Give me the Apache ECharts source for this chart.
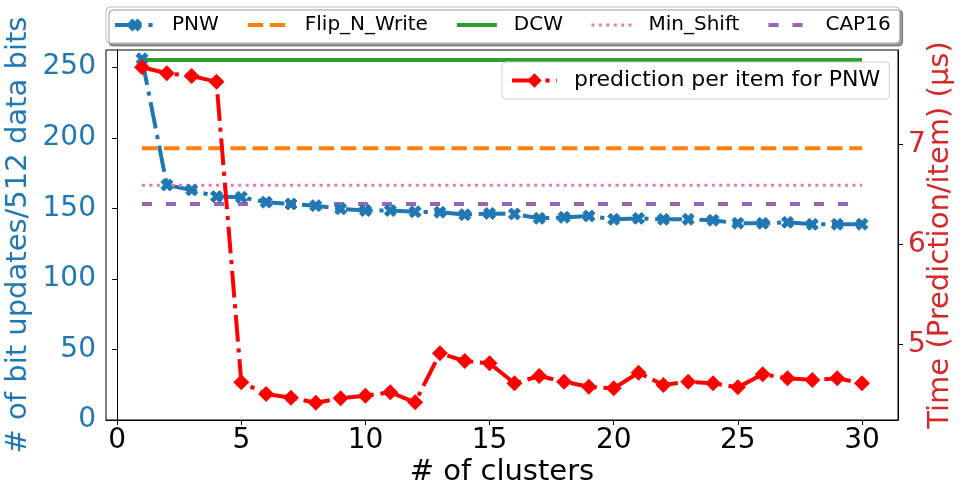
<!DOCTYPE html>
<html><head><meta charset="utf-8">
<script src="https://cdn.jsdelivr.net/npm/echarts@6/dist/echarts.min.js"></script>
<style>html,body{margin:0;padding:0;background:#fff}#c{width:964px;height:496px}</style>
</head><body><div id="c"></div>
<script>
const clusters = [1,2,3,4,5,6,7,8,9,10,11,12,13,14,15,16,17,18,19,20,21,22,23,24,25,26,27,28,29,30];
const pnw = [256,166.5,163,158.3,157.9,154.3,153.1,151.9,149.6,148.4,148.4,147.6,147.2,145.5,146.4,146.0,142.9,143.6,144.6,142.2,142.9,142.2,142.2,141.5,139.4,139.4,140.1,138.7,138.7,138.7];
const prediction = [7.77,7.71,7.683,7.626,4.62,4.503,4.466,4.416,4.46,4.486,4.52,4.42,4.91,4.833,4.81,4.61,4.683,4.626,4.576,4.56,4.716,4.593,4.626,4.61,4.57,4.7,4.66,4.643,4.66,4.61];
const flipNWrite = 192.5;
const dcw = 255.1;
const minShift = 166.3;
const cap16 = 153.1;
const xTicks = [0,5,10,15,20,25,30];
const leftTicks = [0,50,100,150,200,250];
const rightTicks = [5,6,7];

const FONT = 'DejaVu Sans';
const pair = (xs, ys) => xs.map((x, i) => [x, ys[i]]);
const flat = v => [[clusters[0], v], [clusters[clusters.length - 1], v]];
const X_PATH = 'path://M2,-4L0,-2L-2,-4L-4,-2L-2,0L-4,2L-2,4L0,2L2,4L4,2L2,0L4,-2Z';
const DASHDOT = [26.7, 6.7, 4.2, 6.7];

const chart = echarts.init(document.getElementById('c'));
chart.setOption({
  animation: false,
  backgroundColor: '#fff',
  grid: { left: 106, right: 66, top: 50, bottom: 76, containLabel: false, outerBoundsMode: 'none',
          show: true, borderColor: '#000', borderWidth: 1, backgroundColor: 'transparent' },
  legend: [{
    data: [
      { name: 'PNW', lineStyle: { width: 4 } },
      { name: 'Flip_N_Write', lineStyle: { width: 4 }, itemStyle: { opacity: 0 } },
      { name: 'DCW', lineStyle: { width: 4 }, itemStyle: { opacity: 0 } },
      { name: 'Min_Shift', lineStyle: { width: 3 }, itemStyle: { opacity: 0 } },
      { name: 'CAP16', lineStyle: { width: 4 }, itemStyle: { opacity: 0 } }
    ],
    left: 106, top: 7, orient: 'horizontal',
    itemWidth: 40, itemHeight: 13, itemGap: 27,
    padding: [6, 9, 6, 7],
    backgroundColor: '#fff', borderColor: '#bbb', borderWidth: 1, borderRadius: 4,
    shadowColor: 'rgba(0,0,0,0.4)', shadowOffsetX: 3, shadowOffsetY: 3, shadowBlur: 0,
    textStyle: { fontFamily: FONT, fontSize: 20, color: '#000', lineHeight: 24, padding: [0, 0, 0, 12] }
  }, {
    data: [{ name: 'prediction per item for PNW', lineStyle: { width: 4 } }],
    left: 502, top: 62,
    itemWidth: 45, itemHeight: 18,
    padding: [5, 9, 5, 8],
    backgroundColor: 'rgba(255,255,255,0.8)', borderColor: '#ccc', borderWidth: 1, borderRadius: 4,
    textStyle: { fontFamily: FONT, fontSize: 22, color: '#000', lineHeight: 27, padding: [0, 0, 0, 12] }
  }],
  xAxis: {
    type: 'value', min: -0.45, max: 31.45,
    name: '# of clusters', nameLocation: 'middle', nameGap: 38, nameMoveOverlap: false,
    nameTextStyle: { fontFamily: FONT, fontSize: 29, color: '#000' },
    axisLine: { show: true, lineStyle: { color: '#000', width: 1 } },
    axisTick: { show: true, length: 5, lineStyle: { color: '#000' }, customValues: xTicks },
    axisLabel: { fontFamily: FONT, fontSize: 28, color: '#000', margin: 7, customValues: xTicks },
    splitLine: { show: false }
  },
  yAxis: [{
    type: 'value', min: 0, max: 262.2, position: 'left',
    name: '# of bit updates/512 data bits', nameLocation: 'middle', nameGap: 73, nameRotate: 90, nameMoveOverlap: false,
    nameTextStyle: { fontFamily: FONT, fontSize: 29, color: '#1f77b4' },
    axisLine: { show: true, lineStyle: { color: '#000', width: 1 } },
    axisTick: { show: true, length: 5, lineStyle: { color: '#000' }, customValues: leftTicks },
    axisLabel: { fontFamily: FONT, fontSize: 28, color: '#1f77b4', margin: 10, customValues: leftTicks },
    splitLine: { show: false }
  }, {
    type: 'value', min: 4.243, max: 7.943, position: 'right',
    name: 'Time (Prediction/item) (μs)', nameLocation: 'middle', nameGap: 28, nameRotate: 90, nameMoveOverlap: false,
    nameTextStyle: { fontFamily: FONT, fontSize: 29, color: '#d62728' },
    axisLine: { show: true, lineStyle: { color: '#000', width: 1 } },
    axisTick: { show: true, length: 5, lineStyle: { color: '#000' }, customValues: rightTicks },
    axisLabel: { fontFamily: FONT, fontSize: 28, color: '#d62728', margin: 10, customValues: rightTicks },
    splitLine: { show: false }
  }],
  series: [{
    name: 'PNW', type: 'line', yAxisIndex: 0, data: pair(clusters, pnw),
    symbol: X_PATH, symbolSize: 12, showSymbol: true,
    itemStyle: { color: '#1f77b4', borderColor: '#1f77b4', borderWidth: 1 },
    lineStyle: { color: '#1f77b4', width: 4, type: DASHDOT, cap: 'butt' },
    z: 2
  }, {
    name: 'Flip_N_Write', type: 'line', yAxisIndex: 0, data: flat(flipNWrite),
    symbol: 'none', itemStyle: { color: '#ff7f0e' },
    lineStyle: { color: '#ff7f0e', width: 4, type: [15.4, 6.7] }, z: 2
  }, {
    name: 'DCW', type: 'line', yAxisIndex: 0, data: flat(dcw),
    symbol: 'none', itemStyle: { color: '#2ca02c' },
    lineStyle: { color: '#2ca02c', width: 4 }, z: 2
  }, {
    name: 'Min_Shift', type: 'line', yAxisIndex: 0, data: flat(minShift),
    symbol: 'none', itemStyle: { color: '#e377c2' },
    lineStyle: { color: '#e377c2', width: 3, type: [3, 4.4] }, z: 2
  }, {
    name: 'CAP16', type: 'line', yAxisIndex: 0, data: flat(cap16),
    symbol: 'none', itemStyle: { color: '#9467bd' },
    lineStyle: { color: '#9467bd', width: 4, type: [10, 14] }, z: 2
  }, {
    name: 'prediction per item for PNW', type: 'line', yAxisIndex: 1, data: pair(clusters, prediction),
    symbol: 'diamond', symbolSize: 16, showSymbol: true,
    itemStyle: { color: '#ff0000' },
    lineStyle: { color: '#ff0000', width: 4, type: DASHDOT },
    z: 3
  }]
});
</script></body></html>
